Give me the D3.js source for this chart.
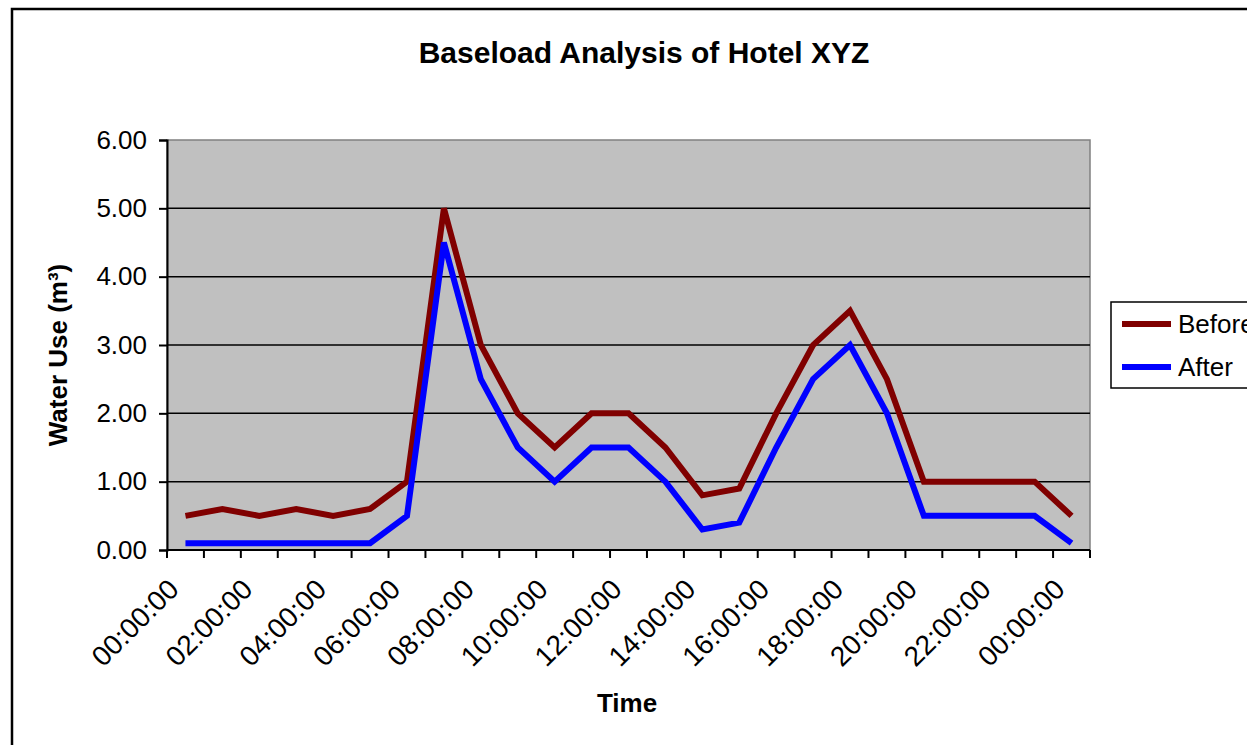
<!DOCTYPE html>
<html>
<head>
<meta charset="utf-8">
<script src="https://cdn.jsdelivr.net/npm/d3@7"></script>
<style>
  html, body { margin: 0; padding: 0; background: #fff; }
  svg { display: block; font-family: "Liberation Sans", Arial, sans-serif; }
</style>
</head>
<body>
<svg id="chart" width="1247" height="745"></svg>
<script>
// ---- data ----
const categories = ["00:00:00","01:00:00","02:00:00","03:00:00","04:00:00","05:00:00","06:00:00","07:00:00",
  "08:00:00","09:00:00","10:00:00","11:00:00","12:00:00","13:00:00","14:00:00","15:00:00","16:00:00",
  "17:00:00","18:00:00","19:00:00","20:00:00","21:00:00","22:00:00","23:00:00","00:00:00"];
const beforeValues = [0.5,0.6,0.5,0.6,0.5,0.6,1.0,5.0,3.0,2.0,1.5,2.0,2.0,1.5,0.8,0.9,2.0,3.0,3.5,2.5,1.0,1.0,1.0,1.0,0.5];
const afterValues  = [0.1,0.1,0.1,0.1,0.1,0.1,0.5,4.5,2.5,1.5,1.0,1.5,1.5,1.0,0.3,0.4,1.5,2.5,3.0,2.0,0.5,0.5,0.5,0.5,0.1];
const yTicks = [0,1,2,3,4,5,6];
const seriesNames = ["Before","After"];
const seriesColors = ["#800000","#0000FF"];
const titleText = "Baseload Analysis of Hotel XYZ";
const xTitle = "Time";
const yTitle = "Water Use (m³)";

// ---- layout ----
const svg = d3.select("#chart");
const plot = {left: 167, right: 1090, top: 140, bottom: 550};

// outer chart border
svg.append("rect").attr("x", 12).attr("y", 9).attr("width", 1300).attr("height", 800)
  .attr("fill", "#fff").attr("stroke", "#000").attr("stroke-width", 2.5);

const idx = categories.map((d, i) => i);
const x = d3.scaleBand().domain(idx).range([plot.left, plot.right]);
const y = d3.scaleLinear().domain([0, 6]).range([plot.bottom, plot.top]);

// plot area
svg.append("rect").attr("x", plot.left).attr("y", plot.top)
  .attr("width", plot.right - plot.left).attr("height", plot.bottom - plot.top)
  .attr("fill", "#C0C0C0").attr("stroke", "#808080").attr("stroke-width", 1.5);

// gridlines
svg.append("g").selectAll("line").data(yTicks.filter(t => t > 0 && t < 6)).join("line")
  .attr("x1", plot.left).attr("x2", plot.right)
  .attr("y1", d => y(d)).attr("y2", d => y(d))
  .attr("stroke", "#000").attr("stroke-width", 1.5);

// y axis
const yAxis = d3.axisLeft(y).tickValues(yTicks).tickFormat(d3.format(".2f")).tickSize(8).tickPadding(12);
const gy = svg.append("g").attr("transform", `translate(${plot.left},0)`).call(yAxis);
gy.select(".domain").attr("stroke", "#000").attr("stroke-width", 2);
gy.selectAll(".tick line").attr("stroke", "#000").attr("stroke-width", 2);
gy.selectAll(".tick text").attr("font-size", 26).attr("fill", "#000")
  .attr("font-family", "Liberation Sans, Arial, sans-serif");

// x axis: ticks at category boundaries
const boundaries = d3.range(categories.length + 1).map(i => plot.left + i * x.bandwidth());
const gx = svg.append("g");
gx.append("line").attr("x1", plot.left).attr("x2", plot.right)
  .attr("y1", plot.bottom).attr("y2", plot.bottom).attr("stroke", "#000").attr("stroke-width", 2);
gx.selectAll("line.tk").data(boundaries).join("line").attr("class", "tk")
  .attr("x1", d => d).attr("x2", d => d).attr("y1", plot.bottom).attr("y2", plot.bottom + 8)
  .attr("stroke", "#000").attr("stroke-width", 2);
// labels every 2nd category
gx.selectAll("text").data(idx.filter(i => i % 2 === 0)).join("text")
  .attr("transform", i => `translate(${x(i) + x.bandwidth() / 2 - 12},${plot.bottom + 34}) rotate(-45)`)
  .attr("text-anchor", "end").attr("dy", "0.35em")
  .attr("font-size", 28).attr("fill", "#000")
  .text(i => categories[i]);

// lines
const line = d3.line().x((d, i) => x(i) + x.bandwidth() / 2).y(d => y(d));
[beforeValues, afterValues].forEach((vals, k) => {
  svg.append("path").datum(vals).attr("d", line)
    .attr("fill", "none").attr("stroke", seriesColors[k]).attr("stroke-width", 6)
    .attr("stroke-linejoin", "miter").attr("stroke-miterlimit", 3);
});

// titles
svg.append("text").attr("x", 644).attr("y", 63).attr("text-anchor", "middle")
  .attr("font-size", 30).attr("font-weight", "bold").text(titleText);
svg.append("text").attr("x", 627).attr("y", 712).attr("text-anchor", "middle")
  .attr("font-size", 26).attr("font-weight", "bold").text(xTitle);
svg.append("text").attr("transform", "translate(67,355) rotate(-90)").attr("text-anchor", "middle")
  .attr("font-size", 26).attr("font-weight", "bold").text(yTitle);

// legend
const lg = svg.append("g");
lg.append("rect").attr("x", 1111).attr("y", 302).attr("width", 200).attr("height", 86)
  .attr("fill", "#fff").attr("stroke", "#000").attr("stroke-width", 1.5);
const legY = [324, 367];
seriesNames.forEach((name, k) => {
  lg.append("line").attr("x1", 1122).attr("x2", 1171).attr("y1", legY[k]).attr("y2", legY[k])
    .attr("stroke", seriesColors[k]).attr("stroke-width", 6);
  lg.append("text").attr("x", 1178).attr("y", legY[k]).attr("dy", "0.35em")
    .attr("font-size", 26).attr("fill", "#000").text(name);
});
</script>
</body>
</html>
